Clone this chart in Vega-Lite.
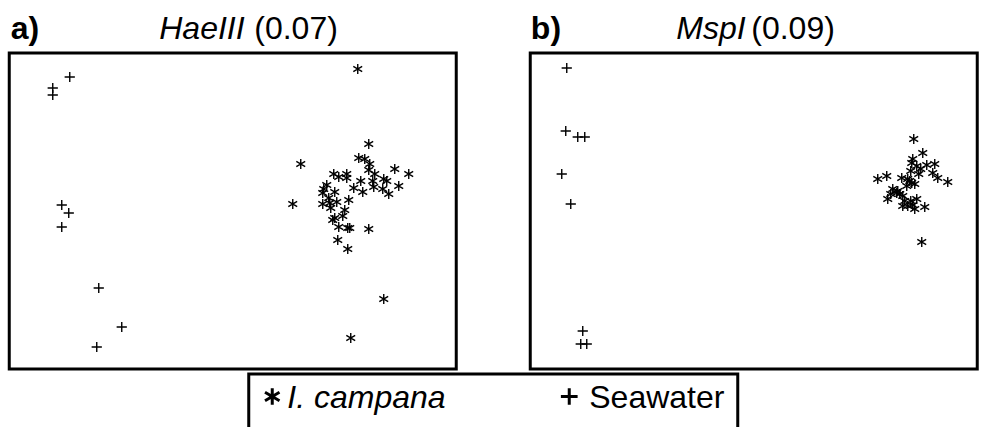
{
  "$schema": "https://vega.github.io/schema/vega-lite/v6.json",
  "background": "white",
  "padding": {"left": 7, "top": 10, "right": 0, "bottom": -6},
  "config": {"view": {"stroke": "black", "strokeWidth": 3}, "font": "Liberation Sans"},
  "datasets": {
    "points": [
      {"panel": "a", "group": "Seawater", "x": -1.63, "y": 1.34},
      {"panel": "a", "group": "Seawater", "x": -1.80, "y": 1.23},
      {"panel": "a", "group": "Seawater", "x": -1.80, "y": 1.16},
      {"panel": "a", "group": "Seawater", "x": -1.71, "y": 0.06},
      {"panel": "a", "group": "Seawater", "x": -1.64, "y": -0.02},
      {"panel": "a", "group": "Seawater", "x": -1.71, "y": -0.16},
      {"panel": "a", "group": "Seawater", "x": -1.34, "y": -0.77},
      {"panel": "a", "group": "Seawater", "x": -1.11, "y": -1.16},
      {"panel": "a", "group": "Seawater", "x": -1.36, "y": -1.36},
      {"panel": "a", "group": "I. campana", "x": 1.36, "y": 0.67},
      {"panel": "a", "group": "I. campana", "x": 0.68, "y": 0.47},
      {"panel": "a", "group": "I. campana", "x": 0.60, "y": 0.07},
      {"panel": "a", "group": "I. campana", "x": 1.26, "y": 0.53},
      {"panel": "a", "group": "I. campana", "x": 1.32, "y": 0.52},
      {"panel": "a", "group": "I. campana", "x": 1.37, "y": 0.47},
      {"panel": "a", "group": "I. campana", "x": 1.62, "y": 0.42},
      {"panel": "a", "group": "I. campana", "x": 1.76, "y": 0.37},
      {"panel": "a", "group": "I. campana", "x": 1.01, "y": 0.37},
      {"panel": "a", "group": "I. campana", "x": 1.06, "y": 0.34},
      {"panel": "a", "group": "I. campana", "x": 1.14, "y": 0.37},
      {"panel": "a", "group": "I. campana", "x": 1.14, "y": 0.33},
      {"panel": "a", "group": "I. campana", "x": 1.36, "y": 0.41},
      {"panel": "a", "group": "I. campana", "x": 1.42, "y": 0.37},
      {"panel": "a", "group": "I. campana", "x": 1.28, "y": 0.30},
      {"panel": "a", "group": "I. campana", "x": 1.40, "y": 0.30},
      {"panel": "a", "group": "I. campana", "x": 1.51, "y": 0.32},
      {"panel": "a", "group": "I. campana", "x": 1.54, "y": 0.30},
      {"panel": "a", "group": "I. campana", "x": 1.21, "y": 0.23},
      {"panel": "a", "group": "I. campana", "x": 1.30, "y": 0.19},
      {"panel": "a", "group": "I. campana", "x": 1.41, "y": 0.24},
      {"panel": "a", "group": "I. campana", "x": 1.50, "y": 0.22},
      {"panel": "a", "group": "I. campana", "x": 1.56, "y": 0.17},
      {"panel": "a", "group": "I. campana", "x": 1.66, "y": 0.25},
      {"panel": "a", "group": "I. campana", "x": 0.94, "y": 0.26},
      {"panel": "a", "group": "I. campana", "x": 0.91, "y": 0.22},
      {"panel": "a", "group": "I. campana", "x": 0.90, "y": 0.18},
      {"panel": "a", "group": "I. campana", "x": 1.02, "y": 0.19},
      {"panel": "a", "group": "I. campana", "x": 0.96, "y": 0.13},
      {"panel": "a", "group": "I. campana", "x": 0.90, "y": 0.07},
      {"panel": "a", "group": "I. campana", "x": 0.97, "y": 0.08},
      {"panel": "a", "group": "I. campana", "x": 1.04, "y": 0.09},
      {"panel": "a", "group": "I. campana", "x": 0.98, "y": 0.03},
      {"panel": "a", "group": "I. campana", "x": 1.16, "y": 0.11},
      {"panel": "a", "group": "I. campana", "x": 1.12, "y": 0.01},
      {"panel": "a", "group": "I. campana", "x": 1.10, "y": -0.05},
      {"panel": "a", "group": "I. campana", "x": 1.00, "y": -0.09},
      {"panel": "a", "group": "I. campana", "x": 1.02, "y": -0.07},
      {"panel": "a", "group": "I. campana", "x": 1.06, "y": -0.16},
      {"panel": "a", "group": "I. campana", "x": 1.15, "y": -0.17},
      {"panel": "a", "group": "I. campana", "x": 1.17, "y": -0.17},
      {"panel": "a", "group": "I. campana", "x": 1.36, "y": -0.18},
      {"panel": "a", "group": "I. campana", "x": 1.05, "y": -0.29},
      {"panel": "a", "group": "I. campana", "x": 1.15, "y": -0.38},
      {"panel": "a", "group": "I. campana", "x": 1.51, "y": -0.88},
      {"panel": "a", "group": "I. campana", "x": 1.18, "y": -1.27},
      {"panel": "a", "group": "I. campana", "x": 1.25, "y": 1.42},
      {"panel": "b", "group": "Seawater", "x": -1.87, "y": 1.43},
      {"panel": "b", "group": "Seawater", "x": -1.88, "y": 0.80},
      {"panel": "b", "group": "Seawater", "x": -1.76, "y": 0.74},
      {"panel": "b", "group": "Seawater", "x": -1.69, "y": 0.74},
      {"panel": "b", "group": "Seawater", "x": -1.92, "y": 0.37},
      {"panel": "b", "group": "Seawater", "x": -1.83, "y": 0.07},
      {"panel": "b", "group": "Seawater", "x": -1.71, "y": -1.20},
      {"panel": "b", "group": "Seawater", "x": -1.73, "y": -1.33},
      {"panel": "b", "group": "Seawater", "x": -1.67, "y": -1.33},
      {"panel": "b", "group": "I. campana", "x": 1.60, "y": 0.72},
      {"panel": "b", "group": "I. campana", "x": 1.69, "y": 0.58},
      {"panel": "b", "group": "I. campana", "x": 1.59, "y": 0.52},
      {"panel": "b", "group": "I. campana", "x": 1.58, "y": 0.48},
      {"panel": "b", "group": "I. campana", "x": 1.63, "y": 0.45},
      {"panel": "b", "group": "I. campana", "x": 1.67, "y": 0.42},
      {"panel": "b", "group": "I. campana", "x": 1.73, "y": 0.46},
      {"panel": "b", "group": "I. campana", "x": 1.81, "y": 0.47},
      {"panel": "b", "group": "I. campana", "x": 1.57, "y": 0.40},
      {"panel": "b", "group": "I. campana", "x": 1.65, "y": 0.37},
      {"panel": "b", "group": "I. campana", "x": 1.79, "y": 0.38},
      {"panel": "b", "group": "I. campana", "x": 1.84, "y": 0.33},
      {"panel": "b", "group": "I. campana", "x": 1.94, "y": 0.29},
      {"panel": "b", "group": "I. campana", "x": 1.24, "y": 0.32},
      {"panel": "b", "group": "I. campana", "x": 1.33, "y": 0.35},
      {"panel": "b", "group": "I. campana", "x": 1.48, "y": 0.33},
      {"panel": "b", "group": "I. campana", "x": 1.54, "y": 0.32},
      {"panel": "b", "group": "I. campana", "x": 1.58, "y": 0.28},
      {"panel": "b", "group": "I. campana", "x": 1.53, "y": 0.25},
      {"panel": "b", "group": "I. campana", "x": 1.39, "y": 0.22},
      {"panel": "b", "group": "I. campana", "x": 1.43, "y": 0.18},
      {"panel": "b", "group": "I. campana", "x": 1.46, "y": 0.17},
      {"panel": "b", "group": "I. campana", "x": 1.37, "y": 0.17},
      {"panel": "b", "group": "I. campana", "x": 1.34, "y": 0.12},
      {"panel": "b", "group": "I. campana", "x": 1.49, "y": 0.15},
      {"panel": "b", "group": "I. campana", "x": 1.51, "y": 0.10},
      {"panel": "b", "group": "I. campana", "x": 1.63, "y": 0.12},
      {"panel": "b", "group": "I. campana", "x": 1.54, "y": 0.05},
      {"panel": "b", "group": "I. campana", "x": 1.59, "y": 0.06},
      {"panel": "b", "group": "I. campana", "x": 1.49, "y": 0.05},
      {"panel": "b", "group": "I. campana", "x": 1.61, "y": 0.02},
      {"panel": "b", "group": "I. campana", "x": 1.71, "y": 0.04},
      {"panel": "b", "group": "I. campana", "x": 1.68, "y": -0.31},
      {"panel": "b", "group": "I. campana", "x": 1.56, "y": 0.30},
      {"panel": "b", "group": "I. campana", "x": 1.61, "y": 0.27},
      {"panel": "b", "group": "I. campana", "x": 1.44, "y": 0.20},
      {"panel": "b", "group": "I. campana", "x": 1.57, "y": 0.10}
    ],
    "legend": [
      {"group": "I. campana"},
      {"group": "Seawater"}
    ]
  },
  "vconcat": [
    {
      "hconcat": [
        {
          "width": 447,
          "height": 316,
          "data": {"name": "points"},
          "transform": [{"filter": "datum.panel == 'a'"}],
          "mark": {"type": "point", "filled": false, "color": "black", "strokeWidth": 1.4, "size": 105, "opacity": 1},
          "encoding": {
            "x": {
              "field": "x", "type": "quantitative",
              "scale": {"domain": [-2.235, 2.235], "nice": false, "zero": false},
              "axis": {
                "orient": "top", "title": null, "domain": false, "ticks": false, "grid": false,
                "values": [-2.225, -0.74, 0.21],
                "labelExpr": "datum.value < -1.5 ? 'a)' : datum.value < 0 ? 'HaeIII' : '(0.07)'",
                "labelFont": "Liberation Sans", "labelFontSize": 32, "labelColor": "black",
                "labelAlign": "left", "labelBaseline": "alphabetic", "labelPadding": 15,
                "labelOverlap": false, "labelBound": false, "labelFlush": false, "labelLimit": 0,
                "labelFontWeight": {"condition": {"test": "datum.value < -1.5", "value": "bold"}, "value": "normal"},
                "labelFontStyle": {"condition": {"test": "datum.value > -1.5 && datum.value < 0", "value": "italic"}, "value": "normal"}
              }
            },
            "y": {
              "field": "y", "type": "quantitative",
              "scale": {"domain": [-1.58, 1.58], "nice": false, "zero": false},
              "axis": null
            },
            "shape": {
              "field": "group", "type": "nominal",
              "scale": {"domain": ["I. campana", "Seawater"], "range": ["M0,-1V1M-0.866,-0.5L0.866,0.5M-0.866,0.5L0.866,-0.5", "M-1,0H1M0,-1V1"]},
              "legend": null
            }
          }
        },
        {
          "width": 447,
          "height": 316,
          "data": {"name": "points"},
          "transform": [{"filter": "datum.panel == 'b'"}],
          "mark": {"type": "point", "filled": false, "color": "black", "strokeWidth": 1.4, "size": 105, "opacity": 1},
          "encoding": {
            "x": {
              "field": "x", "type": "quantitative",
              "scale": {"domain": [-2.235, 2.235], "nice": false, "zero": false},
              "axis": {
                "orient": "top", "title": null, "domain": false, "ticks": false, "grid": false,
                "values": [-2.234, -0.78, -0.03],
                "labelExpr": "datum.value < -1.5 ? 'b)' : datum.value < -0.3 ? 'MspI' : '(0.09)'",
                "labelFont": "Liberation Sans", "labelFontSize": 32, "labelColor": "black",
                "labelAlign": "left", "labelBaseline": "alphabetic", "labelPadding": 15,
                "labelOverlap": false, "labelBound": false, "labelFlush": false, "labelLimit": 0,
                "labelFontWeight": {"condition": {"test": "datum.value < -1.5", "value": "bold"}, "value": "normal"},
                "labelFontStyle": {"condition": {"test": "datum.value > -1.5 && datum.value < -0.3", "value": "italic"}, "value": "normal"}
              }
            },
            "y": {
              "field": "y", "type": "quantitative",
              "scale": {"domain": [-1.58, 1.58], "nice": false, "zero": false},
              "axis": null
            },
            "shape": {
              "field": "group", "type": "nominal",
              "scale": {"domain": ["I. campana", "Seawater"], "range": ["M0,-1V1M-0.866,-0.5L0.866,0.5M-0.866,0.5L0.866,-0.5", "M-1,0H1M0,-1V1"]},
              "legend": null
            }
          }
        }
      ],
      "spacing": 70
    },
    {
      "width": 489,
      "height": 57,
      "data": {"name": "legend"},
      "encoding": {
        "x": {
          "field": "group", "type": "nominal",
          "scale": {"type": "point", "domain": ["I. campana", "Seawater"], "range": [23.5, 320.5], "padding": 0},
          "axis": null
        }
      },
      "layer": [
        {
          "mark": {"type": "point", "filled": false, "color": "black", "strokeWidth": 3, "size": 280, "opacity": 1, "yOffset": -6},
          "encoding": {
            "shape": {
              "field": "group", "type": "nominal",
              "scale": {"domain": ["I. campana", "Seawater"], "range": ["M0,-1V1M-0.866,-0.5L0.866,0.5M-0.866,0.5L0.866,-0.5", "M-1,0H1M0,-1V1"]},
              "legend": null
            }
          }
        },
        {
          "transform": [{"filter": "datum.group == 'I. campana'"}],
          "mark": {"type": "text", "align": "left", "baseline": "middle", "dx": 15, "yOffset": -5, "fontSize": 32, "fontStyle": "italic", "font": "Liberation Sans", "color": "black"},
          "encoding": {"text": {"field": "group", "type": "nominal"}}
        },
        {
          "transform": [{"filter": "datum.group == 'Seawater'"}],
          "mark": {"type": "text", "align": "left", "baseline": "middle", "dx": 20, "yOffset": -5, "fontSize": 32, "fontStyle": "normal", "font": "Liberation Sans", "color": "black"},
          "encoding": {"text": {"field": "group", "type": "nominal"}}
        }
      ]
    }
  ],
  "spacing": 1,
  "center": true
}
